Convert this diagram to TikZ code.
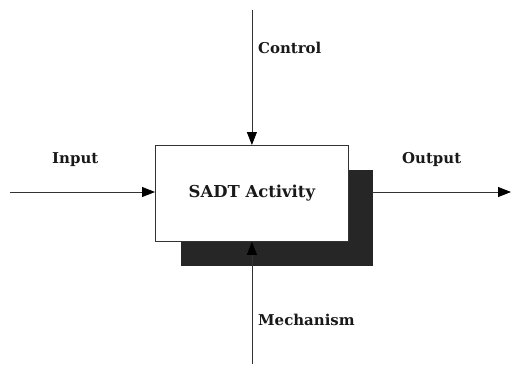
\documentclass[tikz,border=0pt]{standalone}
\usepackage{fontspec}
\setmainfont{DejaVu Serif}
\usetikzlibrary{arrows.meta}
\begin{document}
\begin{tikzpicture}[x=1bp,y=-1bp,
  lbl/.style={font=\bfseries\fontsize{15}{17}\selectfont, anchor=west, inner sep=0pt, text=black!90},
  conn/.style={draw=black!80, line width=0.8bp, -{Triangle[length=13bp,width=10bp,fill=black,color=black]}},
  plain/.style={draw=black!80, line width=0.8bp}]
\useasboundingbox (0,0) rectangle (512,366);
\node[fill=black!85, draw=black!85, minimum width=191bp, minimum height=95bp, inner sep=0pt, anchor=north west] (shadow) at (181,170) {};
\node[fill=white, draw=black!80, line width=0.8bp, minimum width=193bp, minimum height=96bp, inner sep=0pt, anchor=north west, font=\bfseries\fontsize{16.5}{19}\selectfont, text=black!90] (act) at (155,145) {SADT Activity};
\coordinate (ctop) at (act.north |- 0,10);
\coordinate (inl) at (10,192);
\coordinate (outr) at (511,192);
\coordinate (mbot) at (act.south |- 0,364);
\draw[conn] (ctop) -- (act.north);
\draw[conn] (inl) -- (act.west |- inl);
\draw[conn] (shadow.east |- outr) -- (outr);
\draw[conn] (mbot) -- (act.south);
\node[lbl] (lc) at (258,48) {Control};
\node[lbl] (li) at (52,160) {Input};
\node[lbl] (lo) at (402,160) {Output};
\node[lbl] (lm) at (258,320) {Mechanism};
\end{tikzpicture}
\end{document}
